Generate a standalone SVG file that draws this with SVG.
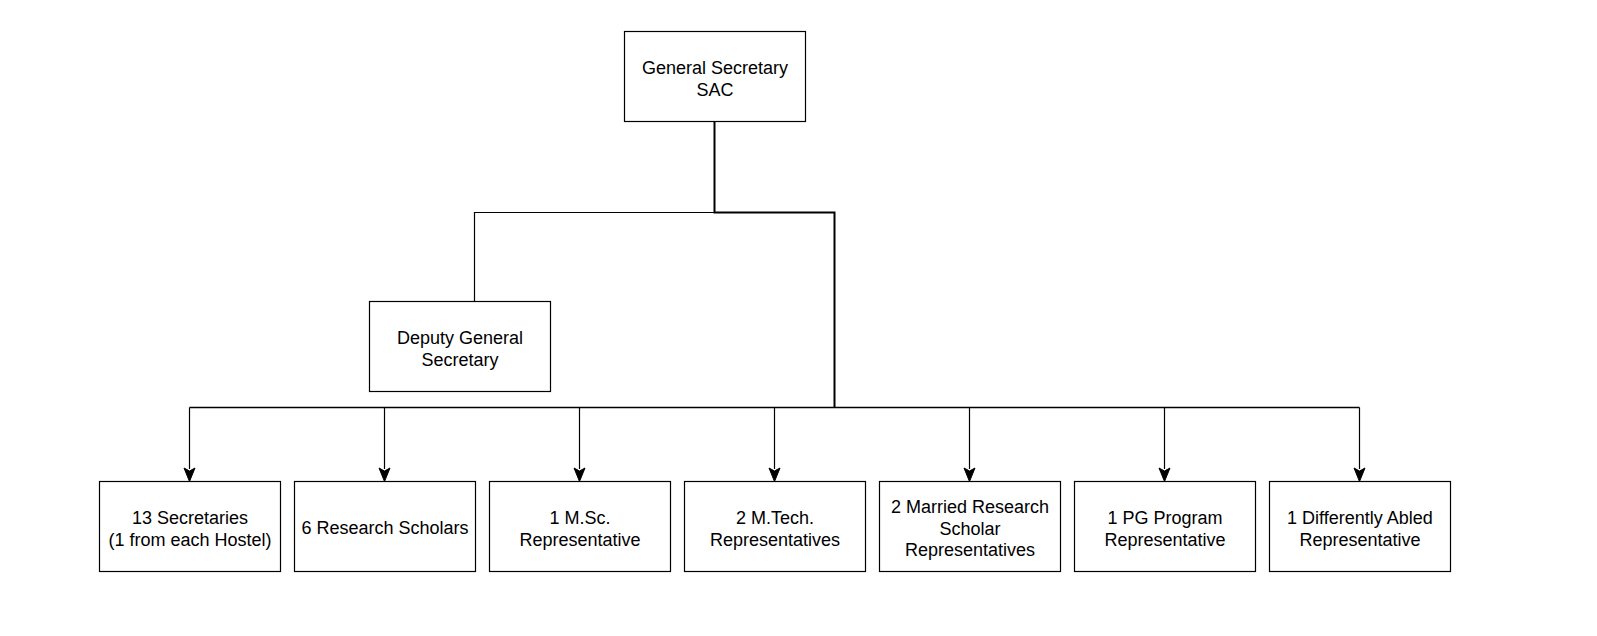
<svg xmlns="http://www.w3.org/2000/svg" width="1597" height="636" viewBox="0 0 1597 636">
<defs>
<style>
.box{fill:#fff;stroke:#000;stroke-width:1.2}
.t{font-family:"Liberation Sans",Arial,sans-serif;font-size:18px;fill:#000;text-anchor:middle}
.ln{fill:none;stroke:#000;stroke-width:1.2}
.thick{fill:none;stroke:#000;stroke-width:2}
.ah{fill:#000;stroke:#000;stroke-width:1}
</style>
<marker id="arr" markerUnits="userSpaceOnUse" markerWidth="14" markerHeight="16" refX="6" refY="14" orient="auto" viewBox="0 0 12 16">
<path d="M6 14 L0.5 0.5 L6 3.5 L11.5 0.5 Z" fill="#000"/>
</marker>
</defs>
<rect width="1597" height="636" fill="#fff"/>
<g id="connectors">
<path class="ln" d="M714.5 212.5 H474.5 V301.5"/>
<path class="thick" d="M714.5 121.5 V212.5 H834.5 V407.5"/>
<path class="ln" d="M189.5 407.5 H1359.5" style="stroke-width:1.6"/>
<path class="ln" d="M189.5 407.5 V469"/>
<path class="ln" d="M384.5 407.5 V469"/>
<path class="ln" d="M579.5 407.5 V469"/>
<path class="ln" d="M774.5 407.5 V469"/>
<path class="ln" d="M969.5 407.5 V469"/>
<path class="ln" d="M1164.5 407.5 V469"/>
<path class="ln" d="M1359.5 407.5 V469"/>
<g class="ah">
<path d="M189.5 481.5 L184 468 L189.5 471 L195 468 Z"/>
<path d="M384.5 481.5 L379 468 L384.5 471 L390 468 Z"/>
<path d="M579.5 481.5 L574 468 L579.5 471 L585 468 Z"/>
<path d="M774.5 481.5 L769 468 L774.5 471 L780 468 Z"/>
<path d="M969.5 481.5 L964 468 L969.5 471 L975 468 Z"/>
<path d="M1164.5 481.5 L1159 468 L1164.5 471 L1170 468 Z"/>
<path d="M1359.5 481.5 L1354 468 L1359.5 471 L1365 468 Z"/>
</g>
</g>
<g id="gs">
<rect class="box" x="624.5" y="31.5" width="181" height="90"/>
<text class="t" x="715" y="74">General Secretary</text>
<text class="t" x="715" y="95.6">SAC</text>
</g>
<g id="dgs">
<rect class="box" x="369.5" y="301.5" width="181" height="90"/>
<text class="t" x="460" y="344">Deputy General</text>
<text class="t" x="460" y="365.6">Secretary</text>
</g>
<g id="n1">
<rect class="box" x="99.5" y="481.5" width="181" height="90"/>
<text class="t" x="190" y="524">13 Secretaries</text>
<text class="t" x="190" y="545.6">(1 from each Hostel)</text>
</g>
<g id="n2">
<rect class="box" x="294.5" y="481.5" width="181" height="90"/>
<text class="t" x="385" y="534">6 Research Scholars</text>
</g>
<g id="n3">
<rect class="box" x="489.5" y="481.5" width="181" height="90"/>
<text class="t" x="580" y="524">1 M.Sc.</text>
<text class="t" x="580" y="545.6">Representative</text>
</g>
<g id="n4">
<rect class="box" x="684.5" y="481.5" width="181" height="90"/>
<text class="t" x="775" y="524">2 M.Tech.</text>
<text class="t" x="775" y="545.6">Representatives</text>
</g>
<g id="n5">
<rect class="box" x="879.5" y="481.5" width="181" height="90"/>
<text class="t" x="970" y="513.2">2 Married Research</text>
<text class="t" x="970" y="534.8">Scholar</text>
<text class="t" x="970" y="556.4">Representatives</text>
</g>
<g id="n6">
<rect class="box" x="1074.5" y="481.5" width="181" height="90"/>
<text class="t" x="1165" y="524">1 PG Program</text>
<text class="t" x="1165" y="545.6">Representative</text>
</g>
<g id="n7">
<rect class="box" x="1269.5" y="481.5" width="181" height="90"/>
<text class="t" x="1360" y="524">1 Differently Abled</text>
<text class="t" x="1360" y="545.6">Representative</text>
</g>
</svg>
